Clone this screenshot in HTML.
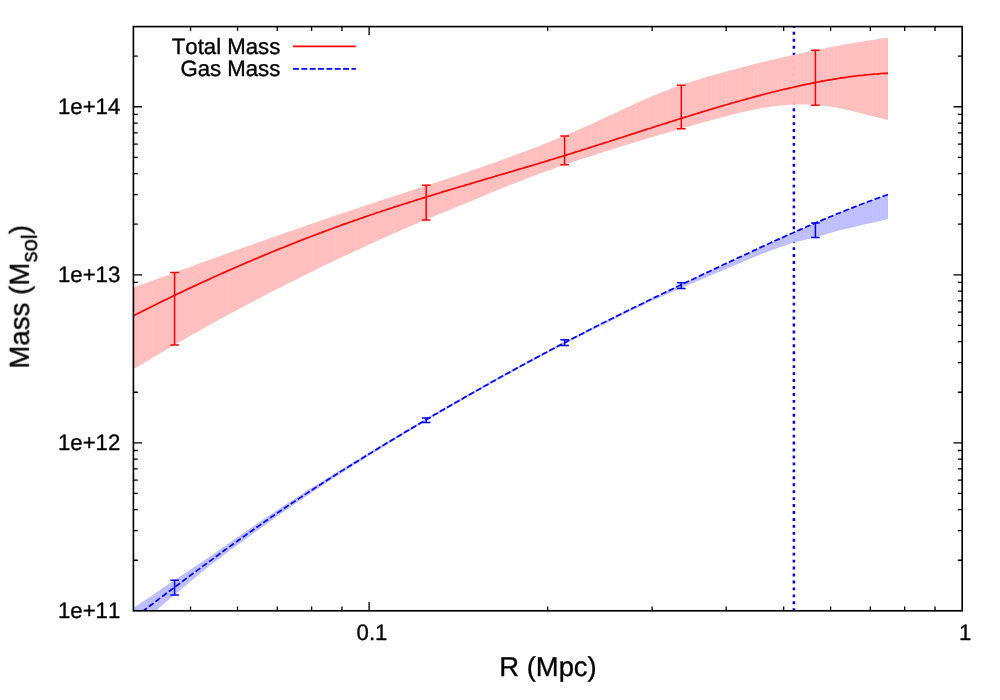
<!DOCTYPE html>
<html><head><meta charset="utf-8"><title>Mass profile</title>
<style>html,body{margin:0;padding:0;background:#fff;}body{width:1000px;height:700px;overflow:hidden;}svg{display:block;}text{font-family:"Liberation Sans",sans-serif;fill:#000;text-rendering:geometricPrecision;font-kerning:none;stroke:#000;stroke-width:0.35px;stroke-linejoin:round;}</style></head><body>
<svg width="1000" height="700" viewBox="0 0 1000 700">
<rect x="0" y="0" width="1000" height="700" fill="#ffffff"/>
<defs><clipPath id="pc"><rect x="133.40" y="26.60" width="828.80" height="584.20"/></clipPath></defs>
<path d="M190.56 610.80v-4.40M190.56 26.60v4.40M237.52 610.80v-4.40M237.52 26.60v4.40M277.23 610.80v-4.40M277.23 26.60v4.40M311.62 610.80v-4.40M311.62 26.60v4.40M341.96 610.80v-4.40M341.96 26.60v4.40M369.10 610.80v-8.70M369.10 26.60v8.70M547.64 610.80v-4.40M547.64 26.60v4.40M652.08 610.80v-4.40M652.08 26.60v4.40M726.18 610.80v-4.40M726.18 26.60v4.40M783.66 610.80v-4.40M783.66 26.60v4.40M830.62 610.80v-4.40M830.62 26.60v4.40M870.33 610.80v-4.40M870.33 26.60v4.40M904.72 610.80v-4.40M904.72 26.60v4.40M935.06 610.80v-4.40M935.06 26.60v4.40M133.40 560.26h4.40M962.20 560.26h-4.40M133.40 530.67h4.40M962.20 530.67h-4.40M133.40 509.68h4.40M962.20 509.68h-4.40M133.40 493.39h4.40M962.20 493.39h-4.40M133.40 480.09h4.40M962.20 480.09h-4.40M133.40 468.84h4.40M962.20 468.84h-4.40M133.40 459.09h4.40M962.20 459.09h-4.40M133.40 450.50h4.40M962.20 450.50h-4.40M133.40 442.81h8.70M962.20 442.81h-8.70M133.40 392.23h4.40M962.20 392.23h-4.40M133.40 362.64h4.40M962.20 362.64h-4.40M133.40 341.65h4.40M962.20 341.65h-4.40M133.40 325.36h4.40M962.20 325.36h-4.40M133.40 312.06h4.40M962.20 312.06h-4.40M133.40 300.81h4.40M962.20 300.81h-4.40M133.40 291.06h4.40M962.20 291.06h-4.40M133.40 282.47h4.40M962.20 282.47h-4.40M133.40 274.78h8.70M962.20 274.78h-8.70M133.40 224.20h4.40M962.20 224.20h-4.40M133.40 194.61h4.40M962.20 194.61h-4.40M133.40 173.62h4.40M962.20 173.62h-4.40M133.40 157.33h4.40M962.20 157.33h-4.40M133.40 144.03h4.40M962.20 144.03h-4.40M133.40 132.78h4.40M962.20 132.78h-4.40M133.40 123.03h4.40M962.20 123.03h-4.40M133.40 114.44h4.40M962.20 114.44h-4.40M133.40 106.75h8.70M962.20 106.75h-8.70M133.40 56.17h4.40M962.20 56.17h-4.40" fill="none" stroke="#000" stroke-width="1.3"/>
<g clip-path="url(#pc)">
<line x1="793.90" y1="24.9" x2="793.90" y2="612.80" stroke="#0000ff" stroke-width="2.5" stroke-dasharray="2.9 4.045"/>
<defs><path id="rb" d="M133.4 287.6L135.4 286.9L137.4 286.1L139.4 285.4L141.4 284.7L143.4 283.9L145.4 283.2L147.4 282.5L149.4 281.8L151.4 281.0L153.4 280.3L155.4 279.6L157.4 278.8L159.4 278.1L161.3 277.4L163.3 276.6L165.3 275.9L167.3 275.2L169.3 274.5L171.3 273.7L173.3 273.0L175.3 272.3L177.3 271.5L179.3 270.8L181.3 270.1L183.3 269.4L185.3 268.6L187.3 267.9L189.3 267.2L191.3 266.5L193.3 265.7L195.3 265.0L197.3 264.3L199.3 263.6L201.3 262.8L203.3 262.1L205.3 261.4L207.3 260.7L209.3 260.0L211.3 259.2L213.3 258.5L215.2 257.8L217.2 257.1L219.2 256.4L221.2 255.6L223.2 254.9L225.2 254.2L227.2 253.5L229.2 252.8L231.2 252.1L233.2 251.3L235.2 250.6L237.2 249.9L239.2 249.2L241.2 248.5L243.2 247.8L245.2 247.1L247.2 246.4L249.2 245.6L251.2 244.9L253.2 244.2L255.2 243.5L257.2 242.8L259.2 242.1L261.2 241.4L263.2 240.7L265.2 240.0L267.2 239.3L269.1 238.6L271.1 237.9L273.1 237.2L275.1 236.5L277.1 235.8L279.1 235.1L281.1 234.4L283.1 233.7L285.1 233.0L287.1 232.3L289.1 231.6L291.1 230.9L293.1 230.2L295.1 229.5L297.1 228.8L299.1 228.1L301.1 227.4L303.1 226.7L305.1 226.0L307.1 225.3L309.1 224.6L311.1 224.0L313.1 223.3L315.1 222.6L317.1 221.9L319.1 221.2L321.1 220.5L323.0 219.8L325.0 219.2L327.0 218.5L329.0 217.8L331.0 217.1L333.0 216.4L335.0 215.8L337.0 215.1L339.0 214.4L341.0 213.7L343.0 213.1L345.0 212.4L347.0 211.7L349.0 211.0L351.0 210.4L353.0 209.7L355.0 209.0L357.0 208.4L359.0 207.7L361.0 207.0L363.0 206.4L365.0 205.7L367.0 205.0L369.0 204.4L371.0 203.7L373.0 203.1L375.0 202.4L376.9 201.7L378.9 201.1L380.9 200.4L382.9 199.8L384.9 199.1L386.9 198.5L388.9 197.8L390.9 197.2L392.9 196.5L394.9 195.9L396.9 195.2L398.9 194.5L400.9 193.9L402.9 193.2L404.9 192.6L406.9 191.9L408.9 191.3L410.9 190.6L412.9 190.0L414.9 189.3L416.9 188.7L418.9 188.0L420.9 187.4L422.9 186.7L424.9 186.1L426.9 185.4L428.9 184.8L430.8 184.1L432.8 183.5L434.8 182.8L436.8 182.2L438.8 181.5L440.8 180.8L442.8 180.2L444.8 179.5L446.8 178.9L448.8 178.2L450.8 177.5L452.8 176.9L454.8 176.2L456.8 175.5L458.8 174.9L460.8 174.2L462.8 173.5L464.8 172.8L466.8 172.2L468.8 171.5L470.8 170.8L472.8 170.1L474.8 169.4L476.8 168.8L478.8 168.1L480.8 167.4L482.8 166.7L484.7 166.0L486.7 165.3L488.7 164.6L490.7 163.9L492.7 163.2L494.7 162.5L496.7 161.8L498.7 161.1L500.7 160.3L502.7 159.6L504.7 158.9L506.7 158.2L508.7 157.5L510.7 156.7L512.7 156.0L514.7 155.3L516.7 154.5L518.7 153.8L520.7 153.0L522.7 152.3L524.7 151.5L526.7 150.8L528.7 150.0L530.7 149.3L532.7 148.5L534.7 147.7L536.7 146.9L538.6 146.2L540.6 145.4L542.6 144.6L544.6 143.8L546.6 143.0L548.6 142.2L550.6 141.4L552.6 140.6L554.6 139.8L556.6 139.0L558.6 138.2L560.6 137.3L562.6 136.5L564.6 135.7L566.6 134.8L568.6 134.0L570.6 133.1L572.6 132.3L574.6 131.4L576.6 130.6L578.6 129.7L580.6 128.8L582.6 128.0L584.6 127.1L586.6 126.2L588.6 125.3L590.6 124.4L592.5 123.5L594.5 122.6L596.5 121.7L598.5 120.7L600.5 119.8L602.5 118.9L604.5 118.0L606.5 117.0L608.5 116.1L610.5 115.2L612.5 114.2L614.5 113.3L616.5 112.4L618.5 111.4L620.5 110.5L622.5 109.6L624.5 108.6L626.5 107.7L628.5 106.8L630.5 105.9L632.5 104.9L634.5 104.0L636.5 103.1L638.5 102.2L640.5 101.3L642.5 100.4L644.5 99.6L646.4 98.7L648.4 97.8L650.4 97.0L652.4 96.1L654.4 95.3L656.4 94.4L658.4 93.6L660.4 92.8L662.4 92.0L664.4 91.2L666.4 90.4L668.4 89.7L670.4 88.9L672.4 88.2L674.4 87.5L676.4 86.7L678.4 86.0L680.4 85.3L682.4 84.7L684.4 84.0L686.4 83.3L688.4 82.7L690.4 82.0L692.4 81.4L694.4 80.7L696.4 80.1L698.4 79.5L700.3 78.9L702.3 78.3L704.3 77.7L706.3 77.1L708.3 76.5L710.3 76.0L712.3 75.4L714.3 74.8L716.3 74.3L718.3 73.7L720.3 73.2L722.3 72.6L724.3 72.1L726.3 71.6L728.3 71.0L730.3 70.5L732.3 70.0L734.3 69.4L736.3 68.9L738.3 68.4L740.3 67.9L742.3 67.3L744.3 66.8L746.3 66.3L748.3 65.8L750.3 65.3L752.3 64.8L754.2 64.3L756.2 63.8L758.2 63.3L760.2 62.8L762.2 62.3L764.2 61.8L766.2 61.3L768.2 60.8L770.2 60.3L772.2 59.9L774.2 59.4L776.2 58.9L778.2 58.4L780.2 58.0L782.2 57.5L784.2 57.0L786.2 56.6L788.2 56.1L790.2 55.7L792.2 55.2L794.2 54.8L796.2 54.3L798.2 53.9L800.2 53.4L802.2 53.0L804.2 52.6L806.2 52.1L808.1 51.7L810.1 51.3L812.1 50.9L814.1 50.5L816.1 50.0L818.1 49.6L820.1 49.2L822.1 48.8L824.1 48.4L826.1 48.0L828.1 47.6L830.1 47.2L832.1 46.9L834.1 46.5L836.1 46.1L838.1 45.7L840.1 45.4L842.1 45.0L844.1 44.6L846.1 44.3L848.1 43.9L850.1 43.6L852.1 43.2L854.1 42.9L856.1 42.5L858.1 42.2L860.1 41.9L862.0 41.6L864.0 41.2L866.0 40.9L868.0 40.6L870.0 40.3L872.0 40.0L874.0 39.7L876.0 39.4L878.0 39.1L880.0 38.8L882.0 38.5L884.0 38.3L886.0 38.0L888.0 37.7L888.0 119.9L886.0 119.4L884.0 118.9L882.0 118.4L880.0 117.9L878.0 117.4L876.0 116.9L874.0 116.4L872.0 115.9L870.0 115.4L868.0 114.9L866.0 114.4L864.0 113.9L862.0 113.4L860.1 112.9L858.1 112.4L856.1 111.9L854.1 111.4L852.1 111.0L850.1 110.5L848.1 110.0L846.1 109.6L844.1 109.2L842.1 108.8L840.1 108.4L838.1 108.0L836.1 107.6L834.1 107.3L832.1 106.9L830.1 106.6L828.1 106.3L826.1 106.0L824.1 105.8L822.1 105.5L820.1 105.3L818.1 105.1L816.1 104.9L814.1 104.8L812.1 104.6L810.1 104.5L808.1 104.5L806.2 104.4L804.2 104.4L802.2 104.4L800.2 104.4L798.2 104.4L796.2 104.5L794.2 104.5L792.2 104.6L790.2 104.7L788.2 104.9L786.2 105.0L784.2 105.2L782.2 105.4L780.2 105.6L778.2 105.8L776.2 106.0L774.2 106.3L772.2 106.6L770.2 106.8L768.2 107.1L766.2 107.5L764.2 107.8L762.2 108.1L760.2 108.5L758.2 108.8L756.2 109.2L754.2 109.6L752.3 110.0L750.3 110.4L748.3 110.9L746.3 111.3L744.3 111.7L742.3 112.2L740.3 112.7L738.3 113.1L736.3 113.6L734.3 114.1L732.3 114.6L730.3 115.1L728.3 115.6L726.3 116.1L724.3 116.6L722.3 117.2L720.3 117.7L718.3 118.2L716.3 118.8L714.3 119.3L712.3 119.8L710.3 120.4L708.3 120.9L706.3 121.5L704.3 122.0L702.3 122.6L700.3 123.1L698.4 123.7L696.4 124.3L694.4 124.8L692.4 125.4L690.4 125.9L688.4 126.5L686.4 127.1L684.4 127.6L682.4 128.2L680.4 128.8L678.4 129.4L676.4 129.9L674.4 130.5L672.4 131.1L670.4 131.7L668.4 132.3L666.4 132.9L664.4 133.4L662.4 134.0L660.4 134.6L658.4 135.2L656.4 135.8L654.4 136.4L652.4 137.0L650.4 137.6L648.4 138.2L646.4 138.8L644.5 139.4L642.5 140.0L640.5 140.6L638.5 141.2L636.5 141.8L634.5 142.4L632.5 143.0L630.5 143.6L628.5 144.3L626.5 144.9L624.5 145.5L622.5 146.1L620.5 146.7L618.5 147.3L616.5 147.9L614.5 148.6L612.5 149.2L610.5 149.8L608.5 150.4L606.5 151.1L604.5 151.7L602.5 152.3L600.5 153.0L598.5 153.6L596.5 154.2L594.5 154.9L592.5 155.5L590.6 156.2L588.6 156.8L586.6 157.4L584.6 158.1L582.6 158.8L580.6 159.4L578.6 160.1L576.6 160.7L574.6 161.4L572.6 162.1L570.6 162.7L568.6 163.4L566.6 164.1L564.6 164.8L562.6 165.5L560.6 166.2L558.6 166.8L556.6 167.5L554.6 168.2L552.6 168.9L550.6 169.7L548.6 170.4L546.6 171.1L544.6 171.8L542.6 172.5L540.6 173.3L538.6 174.0L536.7 174.7L534.7 175.5L532.7 176.2L530.7 177.0L528.7 177.7L526.7 178.5L524.7 179.3L522.7 180.0L520.7 180.8L518.7 181.6L516.7 182.4L514.7 183.2L512.7 184.0L510.7 184.8L508.7 185.6L506.7 186.4L504.7 187.2L502.7 188.0L500.7 188.8L498.7 189.7L496.7 190.5L494.7 191.3L492.7 192.1L490.7 193.0L488.7 193.8L486.7 194.6L484.7 195.4L482.8 196.3L480.8 197.1L478.8 197.9L476.8 198.7L474.8 199.6L472.8 200.4L470.8 201.2L468.8 202.0L466.8 202.8L464.8 203.7L462.8 204.5L460.8 205.3L458.8 206.1L456.8 206.9L454.8 207.7L452.8 208.6L450.8 209.4L448.8 210.2L446.8 211.0L444.8 211.8L442.8 212.6L440.8 213.5L438.8 214.3L436.8 215.1L434.8 215.9L432.8 216.7L430.8 217.6L428.9 218.4L426.9 219.2L424.9 220.1L422.9 220.9L420.9 221.8L418.9 222.6L416.9 223.5L414.9 224.3L412.9 225.2L410.9 226.0L408.9 226.9L406.9 227.7L404.9 228.6L402.9 229.5L400.9 230.3L398.9 231.2L396.9 232.1L394.9 233.0L392.9 233.8L390.9 234.7L388.9 235.6L386.9 236.5L384.9 237.4L382.9 238.3L380.9 239.2L378.9 240.1L376.9 241.0L375.0 241.9L373.0 242.8L371.0 243.7L369.0 244.6L367.0 245.5L365.0 246.4L363.0 247.3L361.0 248.2L359.0 249.2L357.0 250.1L355.0 251.0L353.0 251.9L351.0 252.9L349.0 253.8L347.0 254.7L345.0 255.7L343.0 256.6L341.0 257.6L339.0 258.5L337.0 259.4L335.0 260.4L333.0 261.3L331.0 262.3L329.0 263.3L327.0 264.2L325.0 265.2L323.0 266.1L321.1 267.1L319.1 268.1L317.1 269.0L315.1 270.0L313.1 271.0L311.1 272.0L309.1 272.9L307.1 273.9L305.1 274.9L303.1 275.9L301.1 276.9L299.1 277.9L297.1 278.9L295.1 279.9L293.1 280.9L291.1 281.9L289.1 282.9L287.1 283.9L285.1 284.9L283.1 285.9L281.1 286.9L279.1 287.9L277.1 288.9L275.1 290.0L273.1 291.0L271.1 292.0L269.1 293.0L267.2 294.1L265.2 295.1L263.2 296.2L261.2 297.2L259.2 298.2L257.2 299.3L255.2 300.3L253.2 301.4L251.2 302.4L249.2 303.5L247.2 304.5L245.2 305.6L243.2 306.7L241.2 307.7L239.2 308.8L237.2 309.9L235.2 310.9L233.2 312.0L231.2 313.1L229.2 314.2L227.2 315.3L225.2 316.4L223.2 317.4L221.2 318.5L219.2 319.6L217.2 320.7L215.2 321.8L213.3 322.9L211.3 324.0L209.3 325.2L207.3 326.3L205.3 327.4L203.3 328.5L201.3 329.6L199.3 330.7L197.3 331.9L195.3 333.0L193.3 334.1L191.3 335.3L189.3 336.4L187.3 337.5L185.3 338.7L183.3 339.8L181.3 341.0L179.3 342.1L177.3 343.3L175.3 344.4L173.3 345.6L171.3 346.7L169.3 347.9L167.3 349.1L165.3 350.2L163.3 351.4L161.3 352.6L159.4 353.8L157.4 354.9L155.4 356.1L153.4 357.3L151.4 358.5L149.4 359.7L147.4 360.9L145.4 362.1L143.4 363.3L141.4 364.5L139.4 365.7L137.4 366.9L135.4 368.1L133.4 369.3Z"/><path id="bb" d="M133.4 608.1L135.4 606.7L137.4 605.4L139.4 604.0L141.4 602.6L143.4 601.3L145.4 599.9L147.4 598.6L149.4 597.2L151.4 595.9L153.4 594.5L155.4 593.1L157.4 591.8L159.4 590.4L161.3 589.1L163.3 587.7L165.3 586.4L167.3 585.0L169.3 583.7L171.3 582.3L173.3 581.0L175.3 579.6L177.3 578.3L179.3 576.9L181.3 575.6L183.3 574.2L185.3 572.9L187.3 571.6L189.3 570.3L191.3 569.0L193.3 567.6L195.3 566.3L197.3 565.0L199.3 563.6L201.3 562.3L203.3 561.0L205.3 559.6L207.3 558.3L209.3 556.9L211.3 555.5L213.3 554.1L215.2 552.8L217.2 551.4L219.2 550.0L221.2 548.5L223.2 547.1L225.2 545.7L227.2 544.3L229.2 542.9L231.2 541.5L233.2 540.1L235.2 538.7L237.2 537.3L239.2 535.9L241.2 534.5L243.2 533.1L245.2 531.8L247.2 530.4L249.2 529.0L251.2 527.6L253.2 526.3L255.2 524.9L257.2 523.5L259.2 522.2L261.2 520.8L263.2 519.5L265.2 518.1L267.2 516.8L269.1 515.4L271.1 514.1L273.1 512.8L275.1 511.5L277.1 510.1L279.1 508.8L281.1 507.5L283.1 506.2L285.1 504.9L287.1 503.6L289.1 502.3L291.1 501.0L293.1 499.7L295.1 498.4L297.1 497.1L299.1 495.8L301.1 494.5L303.1 493.3L305.1 492.0L307.1 490.7L309.1 489.5L311.1 488.2L313.1 486.9L315.1 485.7L317.1 484.4L319.1 483.2L321.1 481.9L323.0 480.7L325.0 479.4L327.0 478.2L329.0 477.0L331.0 475.7L333.0 474.5L335.0 473.3L337.0 472.0L339.0 470.8L341.0 469.6L343.0 468.4L345.0 467.2L347.0 465.9L349.0 464.7L351.0 463.5L353.0 462.3L355.0 461.1L357.0 459.9L359.0 458.7L361.0 457.5L363.0 456.3L365.0 455.0L367.0 453.8L369.0 452.6L371.0 451.4L373.0 450.2L375.0 449.0L376.9 447.8L378.9 446.6L380.9 445.4L382.9 444.2L384.9 443.0L386.9 441.8L388.9 440.6L390.9 439.4L392.9 438.2L394.9 437.0L396.9 435.8L398.9 434.6L400.9 433.4L402.9 432.2L404.9 431.1L406.9 429.9L408.9 428.7L410.9 427.5L412.9 426.3L414.9 425.1L416.9 424.0L418.9 422.8L420.9 421.6L422.9 420.4L424.9 419.3L426.9 418.1L428.9 416.9L430.8 415.8L432.8 414.6L434.8 413.4L436.8 412.3L438.8 411.1L440.8 410.0L442.8 408.8L444.8 407.7L446.8 406.5L448.8 405.4L450.8 404.2L452.8 403.1L454.8 401.9L456.8 400.8L458.8 399.6L460.8 398.5L462.8 397.4L464.8 396.2L466.8 395.1L468.8 394.0L470.8 392.8L472.8 391.7L474.8 390.6L476.8 389.5L478.8 388.3L480.8 387.2L482.8 386.1L484.7 385.0L486.7 383.9L488.7 382.8L490.7 381.6L492.7 380.5L494.7 379.4L496.7 378.3L498.7 377.2L500.7 376.1L502.7 375.0L504.7 373.9L506.7 372.8L508.7 371.7L510.7 370.6L512.7 369.5L514.7 368.4L516.7 367.3L518.7 366.2L520.7 365.2L522.7 364.1L524.7 363.0L526.7 361.9L528.7 360.8L530.7 359.8L532.7 358.7L534.7 357.6L536.7 356.5L538.6 355.5L540.6 354.4L542.6 353.4L544.6 352.3L546.6 351.2L548.6 350.2L550.6 349.1L552.6 348.1L554.6 347.0L556.6 346.0L558.6 344.9L560.6 343.9L562.6 342.8L564.6 341.8L566.6 340.8L568.6 339.7L570.6 338.7L572.6 337.7L574.6 336.6L576.6 335.6L578.6 334.6L580.6 333.6L582.6 332.6L584.6 331.5L586.6 330.5L588.6 329.5L590.6 328.5L592.5 327.5L594.5 326.5L596.5 325.5L598.5 324.5L600.5 323.5L602.5 322.5L604.5 321.5L606.5 320.5L608.5 319.5L610.5 318.5L612.5 317.5L614.5 316.5L616.5 315.6L618.5 314.6L620.5 313.6L622.5 312.6L624.5 311.7L626.5 310.7L628.5 309.7L630.5 308.8L632.5 307.8L634.5 306.8L636.5 305.9L638.5 304.9L640.5 303.9L642.5 303.0L644.5 302.0L646.4 301.1L648.4 300.1L650.4 299.2L652.4 298.2L654.4 297.2L656.4 296.3L658.4 295.3L660.4 294.4L662.4 293.4L664.4 292.5L666.4 291.5L668.4 290.6L670.4 289.6L672.4 288.7L674.4 287.7L676.4 286.8L678.4 285.8L680.4 284.9L682.4 284.0L684.4 283.0L686.4 282.1L688.4 281.2L690.4 280.2L692.4 279.3L694.4 278.4L696.4 277.4L698.4 276.5L700.3 275.6L702.3 274.7L704.3 273.7L706.3 272.8L708.3 271.8L710.3 270.9L712.3 270.0L714.3 269.0L716.3 268.1L718.3 267.2L720.3 266.2L722.3 265.3L724.3 264.3L726.3 263.4L728.3 262.5L730.3 261.5L732.3 260.6L734.3 259.7L736.3 258.7L738.3 257.8L740.3 256.9L742.3 256.0L744.3 255.0L746.3 254.1L748.3 253.2L750.3 252.2L752.3 251.3L754.2 250.4L756.2 249.5L758.2 248.6L760.2 247.6L762.2 246.7L764.2 245.8L766.2 244.9L768.2 244.0L770.2 243.1L772.2 242.1L774.2 241.2L776.2 240.3L778.2 239.4L780.2 238.5L782.2 237.6L784.2 236.7L786.2 235.8L788.2 234.9L790.2 234.0L792.2 233.2L794.2 232.3L796.2 231.4L798.2 230.5L800.2 229.6L802.2 228.7L804.2 227.9L806.2 227.0L808.1 226.1L810.1 225.3L812.1 224.4L814.1 223.5L816.1 222.7L818.1 221.8L820.1 221.0L822.1 220.1L824.1 219.3L826.1 218.5L828.1 217.6L830.1 216.8L832.1 216.0L834.1 215.1L836.1 214.3L838.1 213.5L840.1 212.7L842.1 211.9L844.1 211.1L846.1 210.3L848.1 209.5L850.1 208.7L852.1 207.9L854.1 207.1L856.1 206.3L858.1 205.6L860.1 204.8L862.0 204.0L864.0 203.3L866.0 202.5L868.0 201.8L870.0 201.0L872.0 200.3L874.0 199.5L876.0 198.8L878.0 198.1L880.0 197.3L882.0 196.6L884.0 195.9L886.0 195.2L888.0 194.5L888.0 219.1L886.0 219.6L884.0 220.0L882.0 220.5L880.0 220.9L878.0 221.4L876.0 221.8L874.0 222.3L872.0 222.7L870.0 223.2L868.0 223.7L866.0 224.1L864.0 224.6L862.0 225.1L860.1 225.5L858.1 226.0L856.1 226.5L854.1 227.0L852.1 227.4L850.1 227.9L848.1 228.4L846.1 228.8L844.1 229.3L842.1 229.8L840.1 230.3L838.1 230.8L836.1 231.3L834.1 231.9L832.1 232.5L830.1 233.0L828.1 233.6L826.1 234.2L824.1 234.8L822.1 235.4L820.1 236.0L818.1 236.5L816.1 237.1L814.1 237.6L812.1 238.1L810.1 238.6L808.1 239.1L806.2 239.5L804.2 240.0L802.2 240.4L800.2 240.9L798.2 241.4L796.2 241.9L794.2 242.5L792.2 243.1L790.2 243.8L788.2 244.4L786.2 245.1L784.2 245.7L782.2 246.4L780.2 247.1L778.2 247.8L776.2 248.5L774.2 249.2L772.2 249.9L770.2 250.7L768.2 251.4L766.2 252.2L764.2 253.0L762.2 253.8L760.2 254.6L758.2 255.4L756.2 256.2L754.2 257.0L752.3 257.8L750.3 258.7L748.3 259.5L746.3 260.4L744.3 261.2L742.3 262.0L740.3 262.9L738.3 263.8L736.3 264.6L734.3 265.5L732.3 266.3L730.3 267.2L728.3 268.0L726.3 268.9L724.3 269.7L722.3 270.6L720.3 271.4L718.3 272.3L716.3 273.1L714.3 274.0L712.3 274.8L710.3 275.7L708.3 276.6L706.3 277.4L704.3 278.2L702.3 279.1L700.3 279.9L698.4 280.8L696.4 281.6L694.4 282.5L692.4 283.3L690.4 284.2L688.4 285.0L686.4 285.9L684.4 286.7L682.4 287.6L680.4 288.5L678.4 289.3L676.4 290.2L674.4 291.0L672.4 291.9L670.4 292.8L668.4 293.6L666.4 294.5L664.4 295.3L662.4 296.2L660.4 297.1L658.4 298.0L656.4 298.9L654.4 299.8L652.4 300.7L650.4 301.6L648.4 302.5L646.4 303.5L644.5 304.4L642.5 305.4L640.5 306.3L638.5 307.3L636.5 308.2L634.5 309.2L632.5 310.2L630.5 311.1L628.5 312.1L626.5 313.1L624.5 314.0L622.5 315.0L620.5 316.0L618.5 317.0L616.5 318.0L614.5 318.9L612.5 319.9L610.5 320.9L608.5 321.9L606.5 322.9L604.5 323.9L602.5 324.9L600.5 325.9L598.5 326.9L596.5 327.9L594.5 328.9L592.5 329.9L590.6 330.9L588.6 331.9L586.6 332.9L584.6 333.9L582.6 335.0L580.6 336.0L578.6 337.0L576.6 338.0L574.6 339.0L572.6 340.1L570.6 341.1L568.6 342.1L566.6 343.2L564.6 344.2L562.6 345.2L560.6 346.3L558.6 347.3L556.6 348.4L554.6 349.4L552.6 350.4L550.6 351.5L548.6 352.5L546.6 353.6L544.6 354.7L542.6 355.7L540.6 356.8L538.6 357.8L536.7 358.9L534.7 360.0L532.7 361.0L530.7 362.1L528.7 363.2L526.7 364.2L524.7 365.3L522.7 366.4L520.7 367.5L518.7 368.5L516.7 369.6L514.7 370.7L512.7 371.8L510.7 372.9L508.7 374.0L506.7 375.1L504.7 376.2L502.7 377.3L500.7 378.4L498.7 379.5L496.7 380.6L494.7 381.7L492.7 382.8L490.7 383.9L488.7 385.1L486.7 386.2L484.7 387.3L482.8 388.4L480.8 389.6L478.8 390.7L476.8 391.8L474.8 392.9L472.8 394.1L470.8 395.2L468.8 396.4L466.8 397.5L464.8 398.6L462.8 399.8L460.8 400.9L458.8 402.1L456.8 403.2L454.8 404.4L452.8 405.5L450.8 406.7L448.8 407.8L446.8 409.0L444.8 410.2L442.8 411.3L440.8 412.5L438.8 413.7L436.8 414.8L434.8 416.0L432.8 417.2L430.8 418.3L428.9 419.5L426.9 420.7L424.9 421.9L422.9 423.1L420.9 424.2L418.9 425.4L416.9 426.6L414.9 427.8L412.9 429.0L410.9 430.2L408.9 431.4L406.9 432.6L404.9 433.8L402.9 435.0L400.9 436.2L398.9 437.4L396.9 438.6L394.9 439.9L392.9 441.1L390.9 442.3L388.9 443.5L386.9 444.7L384.9 446.0L382.9 447.2L380.9 448.4L378.9 449.6L376.9 450.9L375.0 452.1L373.0 453.3L371.0 454.6L369.0 455.8L367.0 457.1L365.0 458.3L363.0 459.6L361.0 460.8L359.0 462.1L357.0 463.3L355.0 464.6L353.0 465.8L351.0 467.1L349.0 468.4L347.0 469.7L345.0 470.9L343.0 472.2L341.0 473.5L339.0 474.8L337.0 476.0L335.0 477.3L333.0 478.6L331.0 479.9L329.0 481.2L327.0 482.5L325.0 483.8L323.0 485.1L321.1 486.4L319.1 487.8L317.1 489.1L315.1 490.4L313.1 491.7L311.1 493.1L309.1 494.4L307.1 495.7L305.1 497.1L303.1 498.4L301.1 499.8L299.1 501.1L297.1 502.5L295.1 503.9L293.1 505.2L291.1 506.6L289.1 508.0L287.1 509.4L285.1 510.8L283.1 512.2L281.1 513.6L279.1 515.0L277.1 516.4L275.1 517.8L273.1 519.2L271.1 520.6L269.1 522.0L267.2 523.5L265.2 524.9L263.2 526.3L261.2 527.8L259.2 529.2L257.2 530.6L255.2 532.1L253.2 533.5L251.2 535.0L249.2 536.4L247.2 537.9L245.2 539.3L243.2 540.8L241.2 542.2L239.2 543.7L237.2 545.2L235.2 546.6L233.2 548.1L231.2 549.6L229.2 551.0L227.2 552.5L225.2 554.0L223.2 555.5L221.2 557.0L219.2 558.5L217.2 560.0L215.2 561.5L213.3 563.0L211.3 564.6L209.3 566.1L207.3 567.7L205.3 569.3L203.3 570.9L201.3 572.5L199.3 574.2L197.3 575.8L195.3 577.5L193.3 579.2L191.3 580.8L189.3 582.5L187.3 584.2L185.3 585.9L183.3 587.6L181.3 589.2L179.3 590.9L177.3 592.6L175.3 594.3L173.3 596.0L171.3 597.6L169.3 599.3L167.3 601.0L165.3 602.6L163.3 604.3L161.3 606.0L159.4 607.7L157.4 609.4L155.4 611.0L153.4 612.7L151.4 614.4L149.4 616.1L147.4 617.8L145.4 619.5L143.4 621.2L141.4 622.9L139.4 624.6L137.4 626.3L135.4 628.0L133.4 629.7Z"/><clipPath id="cr"><use href="#rb"/></clipPath><clipPath id="cb"><use href="#bb"/></clipPath></defs>
<use href="#rb" fill="#ffbfbf"/>
<use href="#bb" fill="#bfbfff"/>
<path d="M885.53 20V620M882.94 20V620M880.32 20V620M877.67 20V620M875.00 20V620M872.29 20V620M869.56 20V620M866.80 20V620M864.01 20V620M861.19 20V620M858.34 20V620M855.45 20V620M852.54 20V620M849.59 20V620M846.60 20V620M843.58 20V620M840.53 20V620M837.43 20V620M834.30 20V620M831.14 20V620M827.93 20V620M824.68 20V620M821.39 20V620M818.06 20V620M814.68 20V620M811.26 20V620M807.80 20V620M804.28 20V620M800.72 20V620M797.11 20V620M793.44 20V620M789.73 20V620M785.96 20V620M782.13 20V620M778.24 20V620M774.30 20V620M770.30 20V620M766.23 20V620M762.09 20V620M757.89 20V620M753.62 20V620M749.28 20V620M744.86 20V620M740.36 20V620M735.79 20V620M731.13 20V620M726.39 20V620M721.56 20V620M716.63 20V620M711.61 20V620M706.49 20V620M701.27 20V620M695.93 20V620M690.49 20V620M684.93 20V620M679.24 20V620M673.43 20V620M667.48 20V620M661.39 20V620M655.15 20V620M648.76 20V620M642.21 20V620M635.48 20V620M628.58 20V620M621.48 20V620M614.19 20V620M606.68 20V620M598.95 20V620M590.97 20V620M582.74 20V620M574.24 20V620M565.45 20V620M556.35 20V620M546.92 20V620M537.13 20V620M526.95 20V620M516.35 20V620M505.29 20V620M493.74 20V620M481.65 20V620M468.97 20V620M455.62 20V620M441.55 20V620M426.66 20V620M410.86 20V620M394.02 20V620M376.01 20V620M356.65 20V620M335.70 20V620M312.91 20V620M287.90 20V620M260.19 20V620M229.14 20V620M193.84 20V620M152.91 20V620" clip-path="url(#cr)" stroke="#fff" stroke-opacity="0.06" stroke-width="0.8" fill="none"/>
<path d="M885.53 20V620M882.94 20V620M880.32 20V620M877.67 20V620M875.00 20V620M872.29 20V620M869.56 20V620M866.80 20V620M864.01 20V620M861.19 20V620M858.34 20V620M855.45 20V620M852.54 20V620M849.59 20V620M846.60 20V620M843.58 20V620M840.53 20V620M837.43 20V620M834.30 20V620M831.14 20V620M827.93 20V620M824.68 20V620M821.39 20V620M818.06 20V620M814.68 20V620M811.26 20V620M807.80 20V620M804.28 20V620M800.72 20V620M797.11 20V620M793.44 20V620M789.73 20V620M785.96 20V620M782.13 20V620M778.24 20V620M774.30 20V620M770.30 20V620M766.23 20V620M762.09 20V620M757.89 20V620M753.62 20V620M749.28 20V620M744.86 20V620M740.36 20V620M735.79 20V620M731.13 20V620M726.39 20V620M721.56 20V620M716.63 20V620M711.61 20V620M706.49 20V620M701.27 20V620M695.93 20V620M690.49 20V620M684.93 20V620M679.24 20V620M673.43 20V620M667.48 20V620M661.39 20V620M655.15 20V620M648.76 20V620M642.21 20V620M635.48 20V620M628.58 20V620M621.48 20V620M614.19 20V620M606.68 20V620M598.95 20V620M590.97 20V620M582.74 20V620M574.24 20V620M565.45 20V620M556.35 20V620M546.92 20V620M537.13 20V620M526.95 20V620M516.35 20V620M505.29 20V620M493.74 20V620M481.65 20V620M468.97 20V620M455.62 20V620M441.55 20V620M426.66 20V620M410.86 20V620M394.02 20V620M376.01 20V620M356.65 20V620M335.70 20V620M312.91 20V620M287.90 20V620M260.19 20V620M229.14 20V620M193.84 20V620M152.91 20V620" clip-path="url(#cb)" stroke="#fff" stroke-opacity="0.06" stroke-width="0.8" fill="none"/>
<line x1="793.90" y1="24.9" x2="793.90" y2="612.80" stroke="#0000ff" stroke-width="1" stroke-dasharray="2.9 4.045" opacity="0.07"/>
<path d="M133.4 315.8L135.4 314.8L137.4 313.8L139.4 312.7L141.4 311.7L143.4 310.7L145.4 309.7L147.4 308.7L149.4 307.7L151.4 306.7L153.4 305.8L155.4 304.8L157.4 303.8L159.4 302.8L161.3 301.8L163.3 300.8L165.3 299.9L167.3 298.9L169.3 297.9L171.3 297.0L173.3 296.0L175.3 295.0L177.3 294.1L179.3 293.1L181.3 292.2L183.3 291.2L185.3 290.3L187.3 289.3L189.3 288.4L191.3 287.5L193.3 286.5L195.3 285.6L197.3 284.7L199.3 283.7L201.3 282.8L203.3 281.9L205.3 281.0L207.3 280.1L209.3 279.2L211.3 278.3L213.3 277.3L215.2 276.4L217.2 275.5L219.2 274.7L221.2 273.8L223.2 272.9L225.2 272.0L227.2 271.1L229.2 270.2L231.2 269.3L233.2 268.5L235.2 267.6L237.2 266.7L239.2 265.8L241.2 265.0L243.2 264.1L245.2 263.3L247.2 262.4L249.2 261.5L251.2 260.7L253.2 259.8L255.2 259.0L257.2 258.2L259.2 257.3L261.2 256.5L263.2 255.6L265.2 254.8L267.2 254.0L269.1 253.2L271.1 252.3L273.1 251.5L275.1 250.7L277.1 249.9L279.1 249.1L281.1 248.3L283.1 247.5L285.1 246.7L287.1 245.9L289.1 245.1L291.1 244.3L293.1 243.5L295.1 242.7L297.1 241.9L299.1 241.1L301.1 240.3L303.1 239.6L305.1 238.8L307.1 238.0L309.1 237.2L311.1 236.5L313.1 235.7L315.1 235.0L317.1 234.2L319.1 233.4L321.1 232.7L323.0 231.9L325.0 231.2L327.0 230.5L329.0 229.7L331.0 229.0L333.0 228.2L335.0 227.5L337.0 226.8L339.0 226.1L341.0 225.3L343.0 224.6L345.0 223.9L347.0 223.2L349.0 222.5L351.0 221.8L353.0 221.1L355.0 220.4L357.0 219.7L359.0 219.0L361.0 218.3L363.0 217.6L365.0 216.9L367.0 216.2L369.0 215.5L371.0 214.8L373.0 214.2L375.0 213.5L376.9 212.8L378.9 212.2L380.9 211.5L382.9 210.8L384.9 210.2L386.9 209.5L388.9 208.9L390.9 208.2L392.9 207.5L394.9 206.9L396.9 206.3L398.9 205.6L400.9 205.0L402.9 204.3L404.9 203.7L406.9 203.1L408.9 202.4L410.9 201.8L412.9 201.2L414.9 200.5L416.9 199.9L418.9 199.3L420.9 198.7L422.9 198.1L424.9 197.4L426.9 196.8L428.9 196.2L430.8 195.6L432.8 195.0L434.8 194.4L436.8 193.8L438.8 193.2L440.8 192.5L442.8 191.9L444.8 191.3L446.8 190.7L448.8 190.1L450.8 189.5L452.8 188.9L454.8 188.3L456.8 187.7L458.8 187.1L460.8 186.5L462.8 186.0L464.8 185.4L466.8 184.8L468.8 184.2L470.8 183.6L472.8 183.0L474.8 182.4L476.8 181.8L478.8 181.2L480.8 180.6L482.8 180.0L484.7 179.4L486.7 178.9L488.7 178.3L490.7 177.7L492.7 177.1L494.7 176.5L496.7 175.9L498.7 175.3L500.7 174.7L502.7 174.1L504.7 173.6L506.7 173.0L508.7 172.4L510.7 171.8L512.7 171.2L514.7 170.6L516.7 170.0L518.7 169.4L520.7 168.8L522.7 168.2L524.7 167.6L526.7 167.1L528.7 166.5L530.7 165.9L532.7 165.3L534.7 164.7L536.7 164.1L538.6 163.5L540.6 162.9L542.6 162.3L544.6 161.7L546.6 161.1L548.6 160.4L550.6 159.8L552.6 159.2L554.6 158.6L556.6 158.0L558.6 157.4L560.6 156.8L562.6 156.2L564.6 155.6L566.6 154.9L568.6 154.3L570.6 153.7L572.6 153.1L574.6 152.4L576.6 151.8L578.6 151.2L580.6 150.6L582.6 149.9L584.6 149.3L586.6 148.7L588.6 148.0L590.6 147.4L592.5 146.8L594.5 146.1L596.5 145.5L598.5 144.9L600.5 144.2L602.5 143.6L604.5 142.9L606.5 142.3L608.5 141.7L610.5 141.0L612.5 140.4L614.5 139.7L616.5 139.1L618.5 138.4L620.5 137.8L622.5 137.2L624.5 136.5L626.5 135.9L628.5 135.2L630.5 134.6L632.5 133.9L634.5 133.3L636.5 132.6L638.5 132.0L640.5 131.4L642.5 130.7L644.5 130.1L646.4 129.4L648.4 128.8L650.4 128.2L652.4 127.5L654.4 126.9L656.4 126.2L658.4 125.6L660.4 125.0L662.4 124.3L664.4 123.7L666.4 123.1L668.4 122.4L670.4 121.8L672.4 121.2L674.4 120.5L676.4 119.9L678.4 119.3L680.4 118.7L682.4 118.0L684.4 117.4L686.4 116.8L688.4 116.2L690.4 115.5L692.4 114.9L694.4 114.3L696.4 113.7L698.4 113.1L700.3 112.5L702.3 111.9L704.3 111.3L706.3 110.7L708.3 110.1L710.3 109.5L712.3 108.9L714.3 108.3L716.3 107.7L718.3 107.1L720.3 106.5L722.3 105.9L724.3 105.3L726.3 104.8L728.3 104.2L730.3 103.6L732.3 103.0L734.3 102.5L736.3 101.9L738.3 101.3L740.3 100.8L742.3 100.2L744.3 99.7L746.3 99.1L748.3 98.6L750.3 98.0L752.3 97.5L754.2 96.9L756.2 96.4L758.2 95.9L760.2 95.4L762.2 94.8L764.2 94.3L766.2 93.8L768.2 93.3L770.2 92.8L772.2 92.3L774.2 91.8L776.2 91.3L778.2 90.8L780.2 90.3L782.2 89.8L784.2 89.3L786.2 88.8L788.2 88.4L790.2 87.9L792.2 87.5L794.2 87.0L796.2 86.6L798.2 86.1L800.2 85.7L802.2 85.2L804.2 84.8L806.2 84.4L808.1 84.0L810.1 83.6L812.1 83.2L814.1 82.8L816.1 82.4L818.1 82.0L820.1 81.6L822.1 81.2L824.1 80.9L826.1 80.5L828.1 80.1L830.1 79.8L832.1 79.5L834.1 79.1L836.1 78.8L838.1 78.5L840.1 78.2L842.1 77.9L844.1 77.6L846.1 77.3L848.1 77.0L850.1 76.7L852.1 76.5L854.1 76.2L856.1 76.0L858.1 75.7L860.1 75.5L862.0 75.3L864.0 75.1L866.0 74.8L868.0 74.7L870.0 74.5L872.0 74.3L874.0 74.1L876.0 74.0L878.0 73.8L880.0 73.7L882.0 73.5L884.0 73.4L886.0 73.3L888.0 73.2" fill="none" stroke="#ff0000" stroke-width="1.7"/>
<path d="M888.0 194.5L886.0 195.2L884.0 195.9L882.0 196.6L880.0 197.3L878.0 198.1L876.0 198.8L874.0 199.5L872.0 200.3L870.0 201.0L868.0 201.8L866.0 202.5L864.0 203.3L862.0 204.0L860.1 204.8L858.1 205.6L856.1 206.3L854.1 207.1L852.1 207.9L850.1 208.7L848.1 209.5L846.1 210.3L844.1 211.1L842.1 211.9L840.1 212.7L838.1 213.5L836.1 214.3L834.1 215.1L832.1 216.0L830.1 216.8L828.1 217.6L826.1 218.5L824.1 219.3L822.1 220.1L820.1 221.0L818.1 221.8L816.1 222.7L814.1 223.5L812.1 224.4L810.1 225.3L808.1 226.1L806.2 227.0L804.2 227.9L802.2 228.7L800.2 229.6L798.2 230.5L796.2 231.4L794.2 232.3L792.2 233.2L790.2 234.0L788.2 234.9L786.2 235.8L784.2 236.7L782.2 237.6L780.2 238.5L778.2 239.4L776.2 240.3L774.2 241.2L772.2 242.1L770.2 243.1L768.2 244.0L766.2 244.9L764.2 245.8L762.2 246.7L760.2 247.6L758.2 248.6L756.2 249.5L754.2 250.4L752.3 251.3L750.3 252.2L748.3 253.2L746.3 254.1L744.3 255.0L742.3 256.0L740.3 256.9L738.3 257.8L736.3 258.7L734.3 259.7L732.3 260.6L730.3 261.5L728.3 262.5L726.3 263.4L724.3 264.3L722.3 265.3L720.3 266.2L718.3 267.2L716.3 268.1L714.3 269.0L712.3 270.0L710.3 270.9L708.3 271.9L706.3 272.8L704.3 273.7L702.3 274.7L700.3 275.6L698.4 276.6L696.4 277.5L694.4 278.5L692.4 279.4L690.4 280.4L688.4 281.3L686.4 282.3L684.4 283.2L682.4 284.2L680.4 285.1L678.4 286.1L676.4 287.0L674.4 288.0L672.4 288.9L670.4 289.9L668.4 290.8L666.4 291.8L664.4 292.8L662.4 293.7L660.4 294.7L658.4 295.7L656.4 296.6L654.4 297.6L652.4 298.6L650.4 299.5L648.4 300.5L646.4 301.5L644.5 302.5L642.5 303.4L640.5 304.4L638.5 305.4L636.5 306.4L634.5 307.3L632.5 308.3L630.5 309.3L628.5 310.3L626.5 311.3L624.5 312.3L622.5 313.3L620.5 314.2L618.5 315.2L616.5 316.2L614.5 317.2L612.5 318.2L610.5 319.2L608.5 320.2L606.5 321.2L604.5 322.2L602.5 323.2L600.5 324.2L598.5 325.3L596.5 326.3L594.5 327.3L592.5 328.3L590.6 329.3L588.6 330.3L586.6 331.3L584.6 332.4L582.6 333.4L580.6 334.4L578.6 335.4L576.6 336.5L574.6 337.5L572.6 338.5L570.6 339.6L568.6 340.6L566.6 341.7L564.6 342.7L562.6 343.7L560.6 344.8L558.6 345.8L556.6 346.9L554.6 347.9L552.6 349.0L550.6 350.0L548.6 351.1L546.6 352.2L544.6 353.2L542.6 354.3L540.6 355.4L538.6 356.4L536.7 357.5L534.7 358.6L532.7 359.6L530.7 360.7L528.7 361.8L526.7 362.9L524.7 364.0L522.7 365.0L520.7 366.1L518.7 367.2L516.7 368.3L514.7 369.4L512.7 370.5L510.7 371.6L508.7 372.7L506.7 373.8L504.7 374.9L502.7 376.0L500.7 377.1L498.7 378.2L496.7 379.3L494.7 380.4L492.7 381.5L490.7 382.6L488.7 383.8L486.7 384.9L484.7 386.0L482.8 387.1L480.8 388.3L478.8 389.4L476.8 390.5L474.8 391.6L472.8 392.8L470.8 393.9L468.8 395.0L466.8 396.2L464.8 397.3L462.8 398.5L460.8 399.6L458.8 400.7L456.8 401.9L454.8 403.0L452.8 404.2L450.8 405.3L448.8 406.5L446.8 407.6L444.8 408.8L442.8 410.0L440.8 411.1L438.8 412.3L436.8 413.5L434.8 414.6L432.8 415.8L430.8 417.0L428.9 418.1L426.9 419.3L424.9 420.5L422.9 421.7L420.9 422.8L418.9 424.0L416.9 425.2L414.9 426.4L412.9 427.6L410.9 428.8L408.9 429.9L406.9 431.1L404.9 432.3L402.9 433.5L400.9 434.7L398.9 435.9L396.9 437.1L394.9 438.3L392.9 439.5L390.9 440.7L388.9 441.9L386.9 443.1L384.9 444.3L382.9 445.6L380.9 446.8L378.9 448.0L376.9 449.2L375.0 450.4L373.0 451.6L371.0 452.9L369.0 454.1L367.0 455.3L365.0 456.5L363.0 457.8L361.0 459.0L359.0 460.2L357.0 461.5L355.0 462.7L353.0 463.9L351.0 465.2L349.0 466.4L347.0 467.7L345.0 468.9L343.0 470.1L341.0 471.4L339.0 472.7L337.0 473.9L335.0 475.2L333.0 476.4L331.0 477.7L329.0 479.0L327.0 480.2L325.0 481.5L323.0 482.8L321.1 484.1L319.1 485.4L317.1 486.6L315.1 487.9L313.1 489.2L311.1 490.5L309.1 491.8L307.1 493.1L305.1 494.4L303.1 495.7L301.1 497.1L299.1 498.4L297.1 499.7L295.1 501.0L293.1 502.4L291.1 503.7L289.1 505.0L287.1 506.4L285.1 507.7L283.1 509.1L281.1 510.4L279.1 511.8L277.1 513.1L275.1 514.5L273.1 515.9L271.1 517.2L269.1 518.6L267.2 520.0L265.2 521.4L263.2 522.8L261.2 524.2L259.2 525.6L257.2 527.0L255.2 528.4L253.2 529.8L251.2 531.2L249.2 532.6L247.2 534.0L245.2 535.5L243.2 536.9L241.2 538.3L239.2 539.7L237.2 541.2L235.2 542.6L233.2 544.0L231.2 545.5L229.2 546.9L227.2 548.4L225.2 549.8L223.2 551.3L221.2 552.7L219.2 554.2L217.2 555.7L215.2 557.1L213.3 558.6L211.3 560.1L209.3 561.5L207.3 563.0L205.3 564.5L203.3 565.9L201.3 567.4L199.3 568.9L197.3 570.4L195.3 571.9L193.3 573.3L191.3 574.8L189.3 576.3L187.3 577.8L185.3 579.3L183.3 580.8L181.3 582.3L179.3 583.8L177.3 585.3L175.3 586.7L173.3 588.2L171.3 589.7L169.3 591.2L167.3 592.7L165.3 594.2L163.3 595.7L161.3 597.2L159.4 598.7L157.4 600.2L155.4 601.7L153.4 603.2L151.4 604.7L149.4 606.2L147.4 607.7L145.4 609.2L143.4 610.8L141.4 612.3L139.4 613.8L137.4 615.3L135.4 616.8L133.4 618.3" fill="none" stroke="#0000ff" stroke-width="1.7" stroke-dasharray="5.9 2.45"/>
</g>
<path d="M174.60 272.40V344.95M170.30 272.40H178.90M170.30 344.95H178.90M426.20 185.30V219.90M421.90 185.30H430.50M421.90 219.90H430.50M564.60 136.10V164.80M560.30 136.10H568.90M560.30 164.80H568.90M681.30 85.15V128.80M677.00 85.15H685.60M677.00 128.80H685.60M815.40 50.20V105.20M811.10 50.20H819.70M811.10 105.20H819.70" fill="none" stroke="#ff0000" stroke-width="1.5"/>
<path d="M174.60 580.30V595.10M170.30 580.30H178.90M170.30 595.10H178.90M426.20 418.00V422.40M421.90 418.00H430.50M421.90 422.40H430.50M564.60 339.80V345.50M560.30 339.80H568.90M560.30 345.50H568.90M681.30 282.70V288.60M677.00 282.70H685.60M677.00 288.60H685.60M815.40 222.90V237.50M811.10 222.90H819.70M811.10 237.50H819.70" fill="none" stroke="#0000ff" stroke-width="1.5"/>
<rect x="133.40" y="26.60" width="828.80" height="584.20" fill="none" stroke="#000" stroke-width="1.65"/>
<g opacity="0.999">
<text x="120.3" y="114.35" font-size="22.2" text-anchor="end">1e+14</text>
<text x="120.3" y="282.38" font-size="22.2" text-anchor="end">1e+13</text>
<text x="120.3" y="450.41" font-size="22.2" text-anchor="end">1e+12</text>
<text x="120.3" y="618.44" font-size="22.2" text-anchor="end">1e+11</text>
<text x="372.00" y="640.4" font-size="22.2" text-anchor="middle">0.1</text>
<text x="965.10" y="640.4" font-size="22.2" text-anchor="middle">1</text>
<text x="548" y="675.6" font-size="27.4" text-anchor="middle">R (Mpc)</text>
<text transform="translate(28.8 368.7) rotate(-90)" font-size="27.7">Mass (M<tspan font-size="22.16" dy="8.2">sol</tspan><tspan dy="-8.2">)</tspan></text>
<text x="280.3" y="53.9" font-size="22.2" text-anchor="end">Total Mass</text>
<text x="280.3" y="76.2" font-size="22.2" text-anchor="end">Gas Mass</text>
<path d="M293 46.45H355.8" stroke="#ff0000" stroke-width="1.7" fill="none"/>
<path d="M293 68.85H355.8" stroke="#0000ff" stroke-width="1.7" fill="none" stroke-dasharray="5.9 2.45"/>
</g>
</svg></body></html>
